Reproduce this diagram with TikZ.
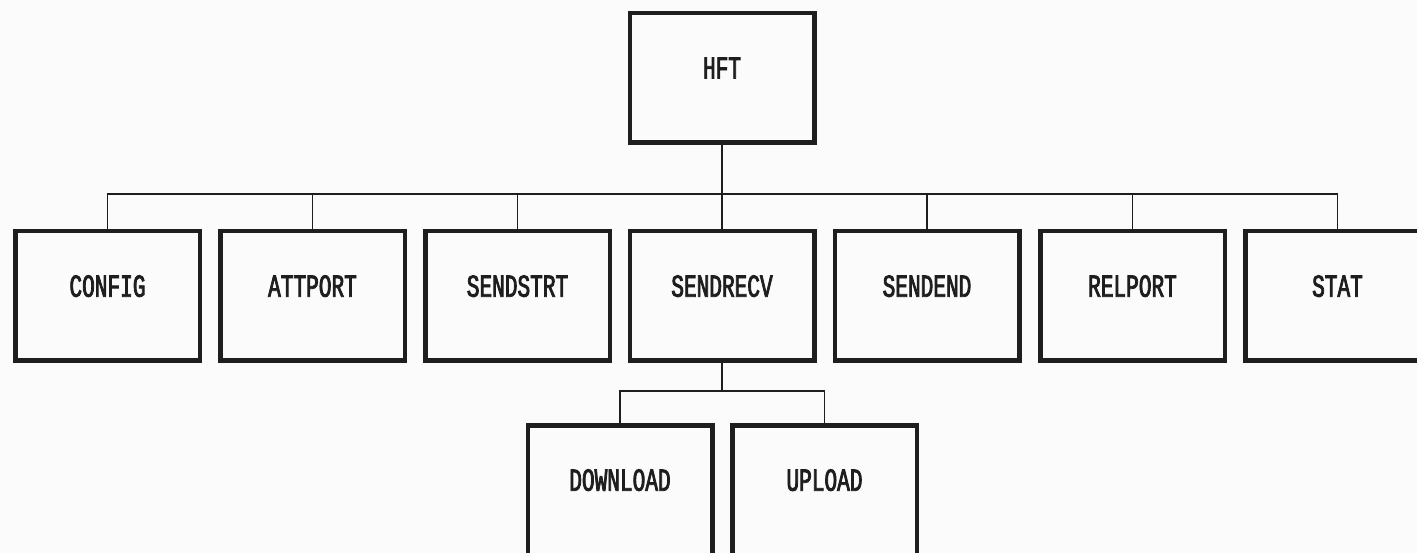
\documentclass[tikz,border=0pt]{standalone}
\usepackage{fontspec}
\newfontfamily\dotfont[FakeStretch=0.66,FakeBold=2.5]{Liberation Mono}
\definecolor{ink}{RGB}{30,30,30}
\definecolor{paper}{RGB}{251,251,251}
\begin{document}
\begin{tikzpicture}[x=1pt,y=-1pt,
  modbox/.style={draw=ink, line width=4.5pt, rectangle, minimum width=184.5pt,
    minimum height=129.5pt, inner sep=0pt, font=\dotfont\fontsize{32}{32}\selectfont,
    text=ink, text depth=20pt},
  conn/.style={draw=ink, line width=1.8pt}]
\useasboundingbox (0,0) rectangle (1417,553);
\fill[paper] (0,0) rectangle (1417,553);
\coordinate (bus) at (0,194);
\coordinate (subbus) at (0,391);
\node[modbox] (hft) at (722,78) {HFT};
\node[modbox] (config) at (107.5,296) {CONFIG};
\node[modbox] (attport) at (312.5,296) {ATTPORT};
\node[modbox] (sendstrt) at (517.5,296) {SENDSTRT};
\node[modbox] (sendrecv) at (722,296) {SENDRECV};
\node[modbox] (sendend) at (927,296) {SENDEND};
\node[modbox] (relport) at (1132.5,296) {RELPORT};
\node[modbox] (stat) at (1337.5,296) {STAT};
\node[modbox] (download) at (620,490) {DOWNLOAD};
\node[modbox] (upload) at (824.5,490) {UPLOAD};
\draw[conn] (hft.south) -- (hft.south |- bus);
\draw[conn] (config.north) -- (config.north |- bus) -- (stat.north |- bus) -- (stat.north);
\foreach \n in {attport,sendstrt,sendrecv,sendend,relport}
  \draw[conn] (\n.north) -- (\n.north |- bus);
\draw[conn] (sendrecv.south) -- (sendrecv.south |- subbus);
\draw[conn] (download.north) -- (download.north |- subbus) -- (upload.north |- subbus) -- (upload.north);
\end{tikzpicture}
\end{document}
